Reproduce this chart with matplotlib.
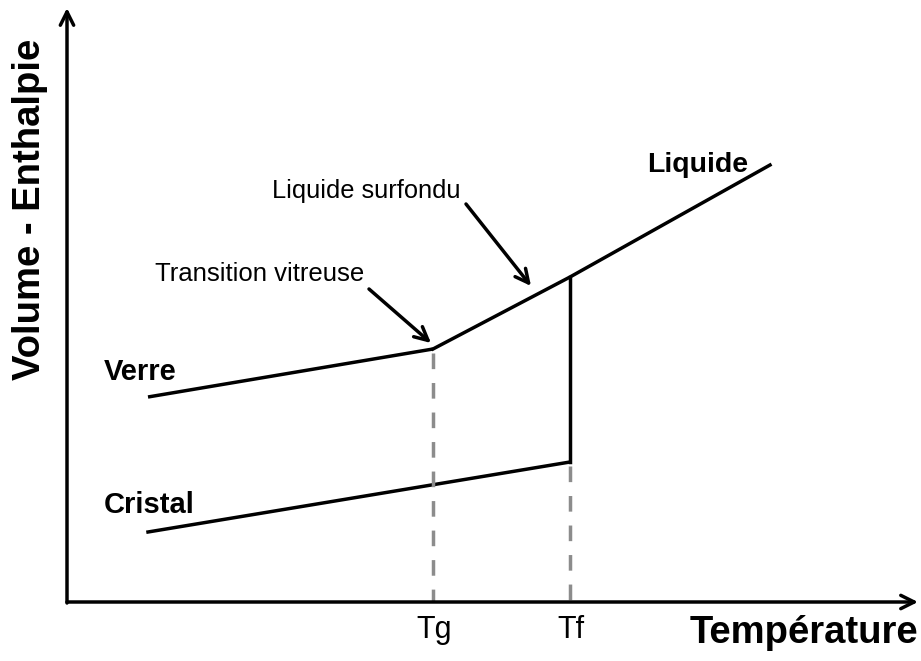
import matplotlib
matplotlib.use("Agg")
import matplotlib.pyplot as plt

plt.rcParams['font.family'] = ['Liberation Sans', 'DejaVu Sans']

# Schematic values (pixel-like units, y grows downward as in the picture)
verre_x = [148, 433]
verre_y = [397, 349]
liquide_x = [433, 570, 770]
liquide_y = [349, 277, 165]
fusion_x = [570, 570]
fusion_y = [277, 462]
cristal_x = [148, 570]
cristal_y = [532, 462]
tg_x, tg_top = 433, 349
tf_x, tf_top = 570, 462
axis_origin = (67, 602)
tick_labels = ["Tg", "Tf"]

fig = plt.figure(figsize=(9.21, 6.61), dpi=100)
ax = fig.add_axes([0, 0, 1, 1])
ax.set_xlim(0, 921)
ax.set_ylim(661, 0)
ax.axis('off')

lw = 2.5
ax.plot(verre_x, verre_y, color='black', lw=lw, solid_capstyle='butt', solid_joinstyle='miter')
ax.plot(liquide_x, liquide_y, color='black', lw=lw, solid_joinstyle='miter')
ax.plot(fusion_x, fusion_y, color='black', lw=lw)
ax.plot(cristal_x, cristal_y, color='black', lw=lw)

ax.plot([tg_x, tg_x], [tg_top + 4, axis_origin[1]], color='#8c8c8c', lw=2.5, dashes=(4.5, 4))
ax.plot([tf_x, tf_x], [tf_top + 4, axis_origin[1]], color='#8c8c8c', lw=2.5, dashes=(4.5, 4))

arrow = dict(arrowstyle='->', lw=2.5, color='black', mutation_scale=24, shrinkA=0, shrinkB=0)
# axes arrows
ax.annotate('', xy=(918, axis_origin[1]), xytext=(axis_origin[0], axis_origin[1]), arrowprops=arrow)
ax.annotate('', xy=(axis_origin[0], 8), xytext=(axis_origin[0], axis_origin[1] + 1), arrowprops=arrow)

# annotation arrows
ax.annotate('', xy=(431, 343), xytext=(369, 289), arrowprops=arrow)
ax.annotate('', xy=(531, 286), xytext=(466, 204), arrowprops=arrow)

ax.text(tg_x + 1, 638, tick_labels[0], ha='center', va='baseline', fontsize=22)
ax.text(tf_x + 1, 638, tick_labels[1], ha='center', va='baseline', fontsize=22)
ax.text(918, 643, "Température", ha='right', va='baseline', fontsize=27.5, fontweight='bold')
ax.text(30, 209, "Volume - Enthalpie", ha='center', va='center', rotation=90, fontsize=27.5, fontweight='bold')
ax.text(698, 172, "Liquide", ha='center', va='baseline', fontsize=20.5, fontweight='bold')
ax.text(104, 380, "Verre", ha='left', va='baseline', fontsize=21, fontweight='bold')
ax.text(104, 513, "Cristal", ha='left', va='baseline', fontsize=21, fontweight='bold')
ax.text(155, 281, "Transition vitreuse", ha='left', va='baseline', fontsize=18.5)
ax.text(272, 198, "Liquide surfondu", ha='left', va='baseline', fontsize=18.3)

fig.savefig('out.png', dpi=100)
